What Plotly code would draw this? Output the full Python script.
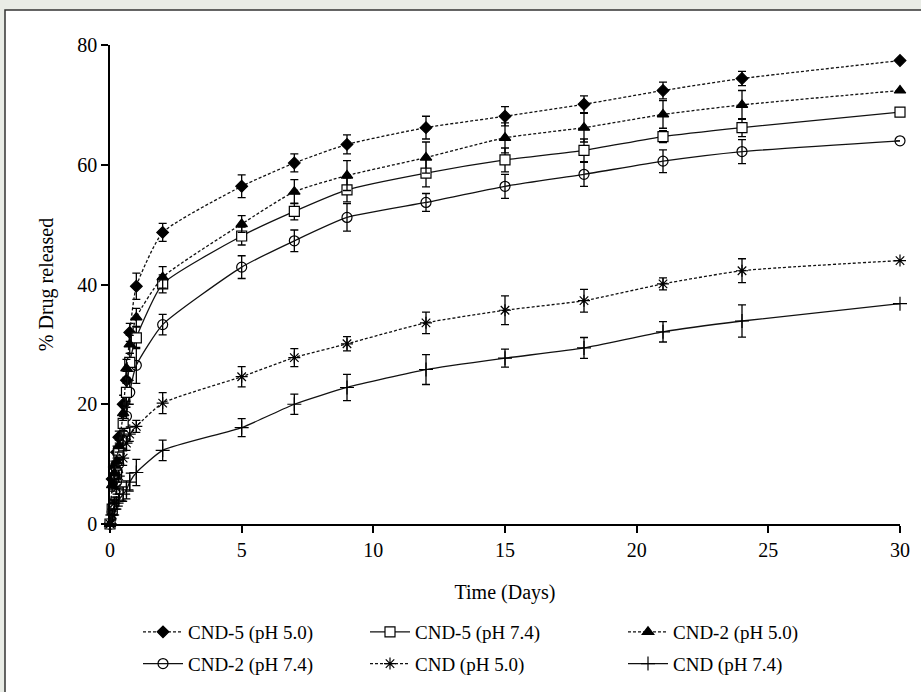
import plotly.graph_objects as go

# ---- data ----
days = [0, 0.083, 0.167, 0.25, 0.333, 0.5, 0.625, 0.75, 1, 2, 5, 7, 9, 12, 15, 18, 21, 24, 30]

cnd5_ph50 = [0, 7.5, 9.5, 12, 14.5, 20, 24, 32, 39.7, 48.7, 56.4, 60.3, 63.4, 66.2, 68.1, 70.1, 72.4, 74.4, 77.4]
cnd5_ph50_err = [0.5, 1, 1, 1, 1, 1.5, 1.5, 1.5, 2.2, 1.5, 1.9, 1.5, 1.6, 1.9, 1.6, 1.4, 1.4, 1.2, 0]

cnd5_ph74 = [0, 2.5, 5, 8.5, 12, 16.8, 22, 27, 31.1, 40.1, 48.1, 52.2, 55.8, 58.6, 60.8, 62.4, 64.7, 66.2, 68.8]
cnd5_ph74_err = [0.5, 1, 1, 1, 1.2, 1.2, 1.5, 1.5, 1.8, 1.5, 1.5, 1.4, 2.0, 2.3, 2.0, 1.9, 1.0, 1.5, 0]

cnd2_ph50 = [0, 6.5, 8.5, 10.5, 13, 18.5, 26, 30, 34.5, 41.2, 50.1, 55.5, 58.2, 61.2, 64.5, 66.2, 68.4, 70.0, 72.4]
cnd2_ph50_err = [0.5, 1, 1, 1, 1, 1.2, 1.5, 1.5, 1.5, 1.8, 1.4, 2.0, 2.5, 2.6, 2.5, 2.4, 2.3, 2.4, 0]

cnd2_ph74 = [0, 2, 4.5, 7, 10, 14, 18, 22, 26.5, 33.3, 42.9, 47.3, 51.2, 53.7, 56.4, 58.4, 60.6, 62.2, 64.0]
cnd2_ph74_err = [0.5, 1, 1, 1, 1.2, 1.5, 1.5, 2, 3.0, 1.7, 1.9, 1.8, 2.3, 1.5, 2.0, 2.0, 1.9, 2.0, 0]

cnd_ph50 = [0, 1.5, 3.5, 6, 8, 11, 13.5, 15, 16.3, 20.2, 24.6, 27.8, 30.1, 33.6, 35.7, 37.3, 40.1, 42.3, 44.0]
cnd_ph50_err = [0.5, 0.8, 1, 1, 1, 1.2, 1.2, 1.2, 1.0, 1.75, 1.7, 1.5, 1.2, 1.8, 2.4, 1.9, 1.0, 2.0, 0]

cnd_ph74 = [0, 1.5, 2.5, 3.5, 4, 5, 5.7, 7, 8.6, 12.3, 16.1, 20.0, 22.8, 25.8, 27.7, 29.4, 32.1, 33.9, 36.8]
cnd_ph74_err = [0.5, 0.8, 1, 1, 1, 1.2, 1.5, 1.5, 2.2, 1.7, 1.5, 1.7, 2.2, 2.5, 1.5, 1.75, 1.7, 2.7, 0]

x_ticks = [0, 5, 10, 15, 20, 25, 30]
y_ticks = [0, 20, 40, 60, 80]

FONT = "Liberation Serif"

series = [
    # name, y, err, symbol, size, dash, fill, legend
    ("CND-5 (pH 5.0)", cnd5_ph50, cnd5_ph50_err, "diamond", 9, "3px,2px", "black", "legend"),
    ("CND-2 (pH 7.4)", cnd2_ph74, cnd2_ph74_err, "circle-open", 10, "solid", "black", "legend"),
    ("CND-5 (pH 7.4)", cnd5_ph74, cnd5_ph74_err, "square", 10, "solid", "white", "legend2"),
    ("CND (pH 5.0)", cnd_ph50, cnd_ph50_err, "asterisk-open", 10, "3px,2px", "black", "legend2"),
    ("CND-2 (pH 5.0)", cnd2_ph50, cnd2_ph50_err, "triangle-up", 10, "3px,2px", "black", "legend3"),
    ("CND (pH 7.4)", cnd_ph74, cnd_ph74_err, "cross-thin-open", 10, "solid", "black", "legend3"),
]

fig = go.Figure()
for i, (name, ys, errs, sym, size, dash, fill, leg) in enumerate(series):
    fig.add_trace(go.Scatter(
        x=days, y=ys, name=name, mode="lines+markers",
        line=dict(color="#111111", width=1.3, dash=dash, shape="spline", smoothing=0.5),
        marker=dict(symbol=sym, size=size, color=fill,
                    line=dict(color="black", width=1.2)),
        error_y=dict(type="data", array=errs, visible=True, color="black",
                     thickness=1.3, width=4),
        cliponaxis=False, legend=leg, legendgroup=name,
    ))

# frame around the figure
fig.add_shape(type="rect", xref="paper", yref="paper",
              x0=(5 - 110) / 790, x1=(930 - 110) / 790,
              y0=(524 - 700) / 479, y1=1 + (45 - 10) / 479,
              line=dict(color="#333333", width=1.5), fillcolor="white", layer="below")

leg_common = dict(font=dict(family=FONT, size=19, color="black"), bgcolor="rgba(0,0,0,0)",
                  orientation="v", tracegroupgap=4, itemwidth=40,
                  xanchor="left", yanchor="top", yref="container", y=(692 - 613) / 692)

fig.update_layout(
    width=921, height=692,
    margin=dict(l=110, r=21, t=45, b=168),
    paper_bgcolor="#e9ece6",
    plot_bgcolor="rgba(0,0,0,0)",
    font=dict(family=FONT, size=20, color="black"),
    showlegend=True,
    legend=dict(**leg_common, x=(138 - 110) / 790),
    legend2=dict(**leg_common, x=(365 - 110) / 790),
    legend3=dict(**leg_common, x=(623 - 110) / 790),
    xaxis=dict(range=[0, 30], tickvals=x_ticks, showline=True, linecolor="black", linewidth=1.5,
               ticks="outside", ticklen=7, tickwidth=1.5, tickcolor="black", showgrid=False,
               tickfont=dict(family=FONT, size=20), automargin=False,
               zeroline=False, title=dict(text="Time (Days)", standoff=25,
                                          font=dict(family=FONT, size=20))),
    yaxis=dict(range=[0, 80], tickvals=y_ticks, showline=True, linecolor="black", linewidth=1.5,
               ticks="outside", ticklen=7, tickwidth=1.5, tickcolor="black", showgrid=False,
               tickfont=dict(family=FONT, size=20), automargin=False,
               zeroline=False, title=dict(text="% Drug released", standoff=18,
                                          font=dict(family=FONT, size=20))),
)

fig.write_html("out.html")
